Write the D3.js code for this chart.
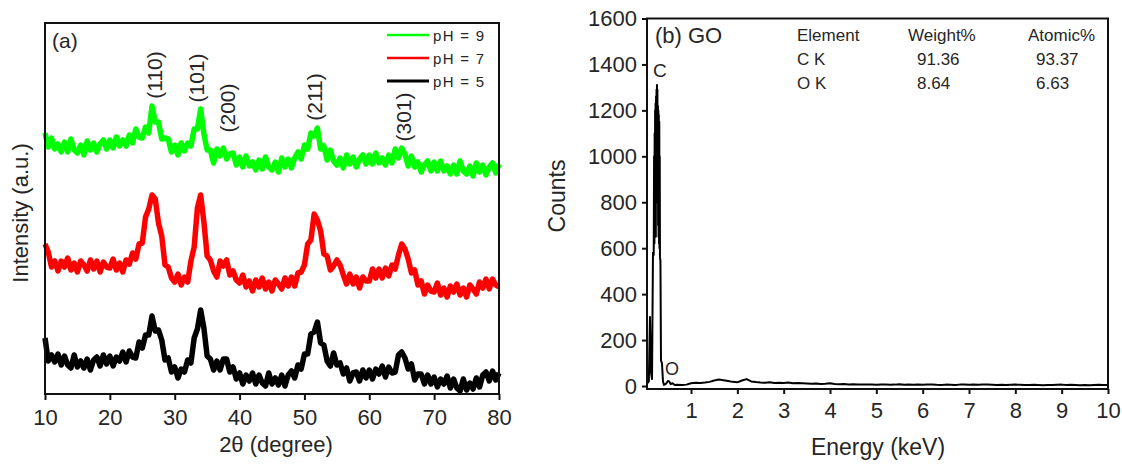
<!DOCTYPE html>
<html><head><meta charset="utf-8">
<script src="https://cdn.jsdelivr.net/npm/d3@7"></script>
<style>
body{margin:0;background:#fff}
svg{display:block}
text{font-family:"Liberation Sans",Arial,sans-serif;fill:#262626}
</style>
</head><body>
<svg id="chart" width="1122" height="466"></svg>
<script>
// ---------- Panel (a): XRD data ----------
const twoTheta = d3.range(10, 80.001, 0.5);
const xrdPH9 = [261,247,256,245,250,242,252,242,255,244,
241,249,239,253,244,251,242,250,254,245,
254,246,257,248,254,248,259,251,265,257,
256,267,261,288,272,272,255,256,255,242,
249,239,251,243,251,248,265,265,285,260,
244,244,231,245,238,246,235,240,241,229,
237,227,238,228,232,224,234,225,237,227,
224,232,222,236,227,235,226,236,242,235,
249,245,261,258,266,245,248,234,244,233,
229,236,226,239,230,237,227,235,239,230,
239,230,241,231,236,229,239,231,245,236,
246,240,228,238,227,232,222,229,233,223,
232,223,233,223,228,220,229,220,233,223,
220,228,218,231,222,229,219,227,231,221,230];
const xrdPH7 = [150,142,127,133,123,133,127,136,124,131,
122,133,129,123,134,125,133,122,132,127,
126,135,124,131,122,134,130,141,135,150,
151,177,185,199,195,171,158,129,127,116,
112,120,109,117,112,133,147,186,199,172,
138,134,123,117,133,128,134,119,123,114,
111,119,107,113,103,114,107,116,105,112,
103,114,110,105,116,108,117,108,121,122,
129,150,154,180,174,163,140,138,124,128,
134,129,119,110,120,110,117,106,117,113,
113,125,116,125,116,126,118,129,125,139,
150,145,135,121,124,109,113,100,109,103,
102,111,99,106,97,108,102,110,99,106,
97,109,105,100,112,106,115,105,115,109,107];
const xrdPH5 = [56,33,39,32,40,29,38,29,26,39,
27,33,26,35,24,34,37,28,39,30,
38,28,37,33,42,32,43,37,36,52,
46,59,59,78,63,64,54,34,36,22,
27,16,25,22,34,31,56,65,84,66,
38,35,24,33,24,35,35,22,27,15,
21,10,19,13,21,10,19,11,8,21,
10,16,9,19,8,19,23,16,29,25,
40,40,60,62,72,51,49,33,28,41,
29,31,20,26,13,21,22,13,24,16,
24,15,25,20,28,17,27,21,22,39,
42,36,25,30,14,20,20,10,19,10,
17,7,15,10,18,6,15,6,3,15,
4,11,5,16,7,19,22,13,23,14,21];
const seriesNames = ["pH = 9", "pH = 7", "pH = 5"];
const seriesColors = ["#00ff00", "#ff0000", "#000000"];
const xTicksA = [10, 20, 30, 40, 50, 60, 70, 80];
const peakLabels = ["(110)", "(101)", "(200)", "(211)", "(301)"];
const peakLabelTheta = [26.9, 33.4, 38.2, 51.6, 65.2];
const peakLabelLevel = [319, 316, 286, 297, 277];

// ---------- Panel (b): EDS data ----------
const edsPeakEnergy = [0.05,0.09,0.114,0.136,0.158,0.179,0.195,0.203,0.21,0.215,0.22,0.225,0.23,0.235,0.24,0.245,0.25,0.255,0.26,0.265,0.27,0.275,0.28,0.285,0.29,0.295,0.30,0.305,0.31,0.315,0.32,0.325,0.33,0.34,0.352,0.373,0.395,0.417,0.45,0.48,0.50,0.53,0.56,0.60,0.65];
const edsPeakCounts = [10,20,300,60,30,580,570,1000,620,1100,650,1200,680,1230,650,1260,800,1290,900,1310,950,1290,800,1220,700,1200,650,1180,620,1150,600,1000,560,545,110,100,20,5,8,15,22,20,8,12,4];
const edsBgEnergy = d3.range(0.7, 10.001, 0.1);
const edsBgCounts = [5,4,6,12,14,13,15,18,24,28,
25,22,18,16,24,30,20,17,15,14,
16,13,14,13,15,12,13,12,11,10,
11,9,10,12,9,8,9,7,8,7,
6,7,6,5,7,6,5,6,8,5,
6,5,7,5,6,7,5,4,6,5,
4,6,7,5,6,5,7,6,5,4,
5,4,5,6,5,4,4,5,4,3,
4,4,5,6,4,5,4,3,4,3,
4,5,4,4];
const xTicksB = [1,2,3,4,5,6,7,8,9,10];
const yTicksB = [0,200,400,600,800,1000,1200,1400,1600];
const tableHeader = ["Element", "Weight%", "Atomic%"];
const tableElements = ["C K", "O K"];
const tableWeight = ["91.36", "8.64"];
const tableAtomic = ["93.37", "6.63"];
const peakTags = ["C", "O"];

const svg = d3.select("#chart");
const FONT = '"Liberation Sans",Arial,sans-serif';

// ================= Panel (a) =================
const A = {l:45, r:499, t:23, b:394};
const xA = d3.scaleLinear().domain([10, 80]).range([A.l, A.r]);
const yA = d3.scaleLinear().domain([0, 371]).range([A.b, A.t]);
const gA = svg.append("g");

const lineA = d3.line().x((d,i)=>xA(twoTheta[i])).y(d=>yA(d));
[xrdPH9, xrdPH7, xrdPH5].forEach((s, k) => {
  gA.append("path").datum(s).attr("d", lineA)
    .attr("fill","none").attr("stroke", seriesColors[k])
    .attr("stroke-width", 5.5).attr("stroke-linejoin","round");
});

gA.append("rect").attr("x",A.l).attr("y",A.t).attr("width",A.r-A.l).attr("height",A.b-A.t)
  .attr("fill","none").attr("stroke","#111").attr("stroke-width",2);

const axA = gA.append("g").attr("transform",`translate(0,${A.b})`)
  .call(d3.axisBottom(xA).tickValues(xTicksA).tickFormat(d3.format("d")).tickSize(6).tickSizeOuter(0).tickPadding(9));
axA.select(".domain").remove();
axA.selectAll("line").attr("stroke","#111").attr("stroke-width",2);
axA.selectAll("text").style("font-size","22px").style("font-family",FONT).attr("fill","#262626");

gA.append("text").attr("x",276).attr("y",452).attr("text-anchor","middle").style("font-size","22px").text("2θ (degree)");
gA.append("text").attr("transform","translate(28,213) rotate(-90)").attr("text-anchor","middle").style("font-size","22px").text("Intensity (a.u.)");
gA.append("text").attr("x",52).attr("y",48).style("font-size","21px").text("(a)");

peakLabels.forEach((lab,i)=>{
  gA.append("text")
    .attr("transform",`translate(${xA(peakLabelTheta[i])},${yA(peakLabelLevel[i])}) rotate(-90)`)
    .attr("text-anchor","middle").attr("dominant-baseline","central")
    .style("font-size","21px").text(lab);
});

// legend
const legY = [35, 58, 81];
seriesNames.forEach((n,i)=>{
  gA.append("line").attr("x1",387).attr("x2",429).attr("y1",legY[i]).attr("y2",legY[i])
    .attr("stroke",seriesColors[i]).attr("stroke-width", i===2 ? 3 : 2.5);
  gA.append("text").attr("x",433).attr("y",legY[i]+5.5).style("font-size","15px")
    .style("letter-spacing","1.3px").text(n);
});

// ================= Panel (b) =================
const B = {l:647, r:1108, t:18.5, b:389};
const xB = d3.scaleLinear().domain([0.05, 10]).range([B.l, B.r]);
const yB = d3.scaleLinear().domain([0, 1600]).range([386, B.t]);
const gB = svg.append("g");

const edsEnergy = edsPeakEnergy.concat(edsBgEnergy);
const edsCounts = edsPeakCounts.concat(edsBgCounts);
const lineB = d3.line().x((d,i)=>xB(edsEnergy[i])).y(d=>yB(d));
gB.append("path").datum(edsCounts).attr("d", lineB)
  .attr("fill","none").attr("stroke","#000").attr("stroke-width",2).attr("stroke-linejoin","round");

gB.append("rect").attr("x",B.l).attr("y",B.t).attr("width",B.r-B.l).attr("height",B.b-B.t)
  .attr("fill","none").attr("stroke","#111").attr("stroke-width",2);

const axBx = gB.append("g").attr("transform",`translate(0,${B.b})`)
  .call(d3.axisBottom(xB).tickValues(xTicksB).tickFormat(d3.format("d")).tickSize(5).tickSizeOuter(0).tickPadding(8));
axBx.select(".domain").remove();
const axBy = gB.append("g").attr("transform",`translate(${B.l},0)`)
  .call(d3.axisLeft(yB).tickValues(yTicksB).tickFormat(d3.format("d")).tickSize(5).tickSizeOuter(0).tickPadding(5));
axBy.select(".domain").remove();
[axBx, axBy].forEach(ax=>{
  ax.selectAll("line").attr("stroke","#111").attr("stroke-width",2);
  ax.selectAll("text").style("font-size","22px").style("font-family",FONT).attr("fill","#262626");
});

gB.append("text").attr("x",878).attr("y",455).attr("text-anchor","middle").style("font-size","23px").text("Energy (keV)");
gB.append("text").attr("transform","translate(565,196) rotate(-90)").attr("text-anchor","middle").style("font-size","23px").text("Counts");
gB.append("text").attr("x",655).attr("y",43).style("font-size","22px").text("(b) GO");

// element tags on peaks
gB.append("text").attr("x",653).attr("y",77).style("font-size","19px").text(peakTags[0]);
gB.append("text").attr("x",665).attr("y",375).style("font-size","18px").text(peakTags[1]);

// table
const colHeadX = [797, 908, 1028];
const colValX = [797, 917, 1036];
const rowY = [41, 65, 89];
tableHeader.forEach((h,j)=>{
  gB.append("text").attr("x",colHeadX[j]).attr("y",rowY[0]).style("font-size","17px").text(h);
});
tableElements.forEach((e,i)=>{
  gB.append("text").attr("x",colValX[0]).attr("y",rowY[i+1]).style("font-size","17px").text(e);
  gB.append("text").attr("x",colValX[1]).attr("y",rowY[i+1]).style("font-size","17px").text(tableWeight[i]);
  gB.append("text").attr("x",colValX[2]).attr("y",rowY[i+1]).style("font-size","17px").text(tableAtomic[i]);
});
</script>
</body></html>
